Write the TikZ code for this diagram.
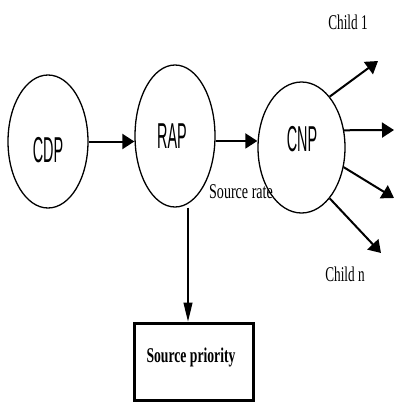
\documentclass[tikz,border=0pt]{standalone}
\usepackage{fontspec}
\setmainfont{Liberation Serif}
\newfontfamily\sansf{Liberation Sans}
\usetikzlibrary{shapes.geometric,arrows.meta}
\begin{document}
\begin{tikzpicture}[x=1pt,y=-1pt,
  bubble/.style={draw,ellipse,line width=1.3pt,inner sep=0pt},
  arr/.style={line width=2pt,-{Triangle[length=12pt,width=15pt]}},
  thinarr/.style={line width=1.2pt,-{Triangle[length=19pt,width=9pt]}},
  big/.style={inner sep=0pt,font=\sansf\fontsize{36}{40}\selectfont},
  small/.style={inner sep=0pt,font=\fontsize{21}{23}\selectfont}]
\useasboundingbox (0,0) rectangle (394,402);
\node[bubble,minimum width=80pt,minimum height=133pt] (CDP) at (48,141.5) {};
\node[bubble,minimum width=80pt,minimum height=142pt] (RAP) at (175,136) {};
\node[bubble,minimum width=87pt,minimum height=131pt] (CNP) at (301.5,147.5) {};
\node[big] (cdpt) at (48,150) {\scalebox{0.4}[1]{CDP}};
\node[big] (rapt) at (172,136) {\scalebox{0.4}[1]{RAP}};
\node[big] (cnpt) at (302,139) {\scalebox{0.4}[1]{CNP}};
\node[draw,line width=3pt,minimum width=119pt,minimum height=77pt,inner sep=0pt] (box) at (193.5,361.5) {};
\node[small,font=\bfseries\fontsize{21}{23}\selectfont] (boxt) at (191,357) {\scalebox{0.65}[1]{Source priority}};
\node[small] (srate) at (241,192) {\scalebox{0.67}[1]{Source rate}};
\node[small] (c1) at (348,22) {\scalebox{0.63}[1]{Child 1}};
\node[small] (cn) at (345,274) {\scalebox{0.63}[1]{Child n}};
\coordinate (e1) at (378,61);
\coordinate (e2) at (394,130);
\coordinate (e3) at (394,198);
\coordinate (e4) at (381,253);
\draw[arr] (CDP.east) -- (CDP.east -| RAP.west);
\draw[arr] (RAP.-7) -- (RAP.-7 -| CNP.west);
\draw[thinarr] ([xshift=13pt]RAP.south) -- ([xshift=13pt]RAP.south |- box.north);
\draw[arr] (CNP.61) -- (e1);
\draw[arr] (CNP.22) -- (e2);
\draw[arr] (CNP.-25) -- (e3);
\draw[arr] (CNP.-61) -- (e4);
\end{tikzpicture}
\end{document}
